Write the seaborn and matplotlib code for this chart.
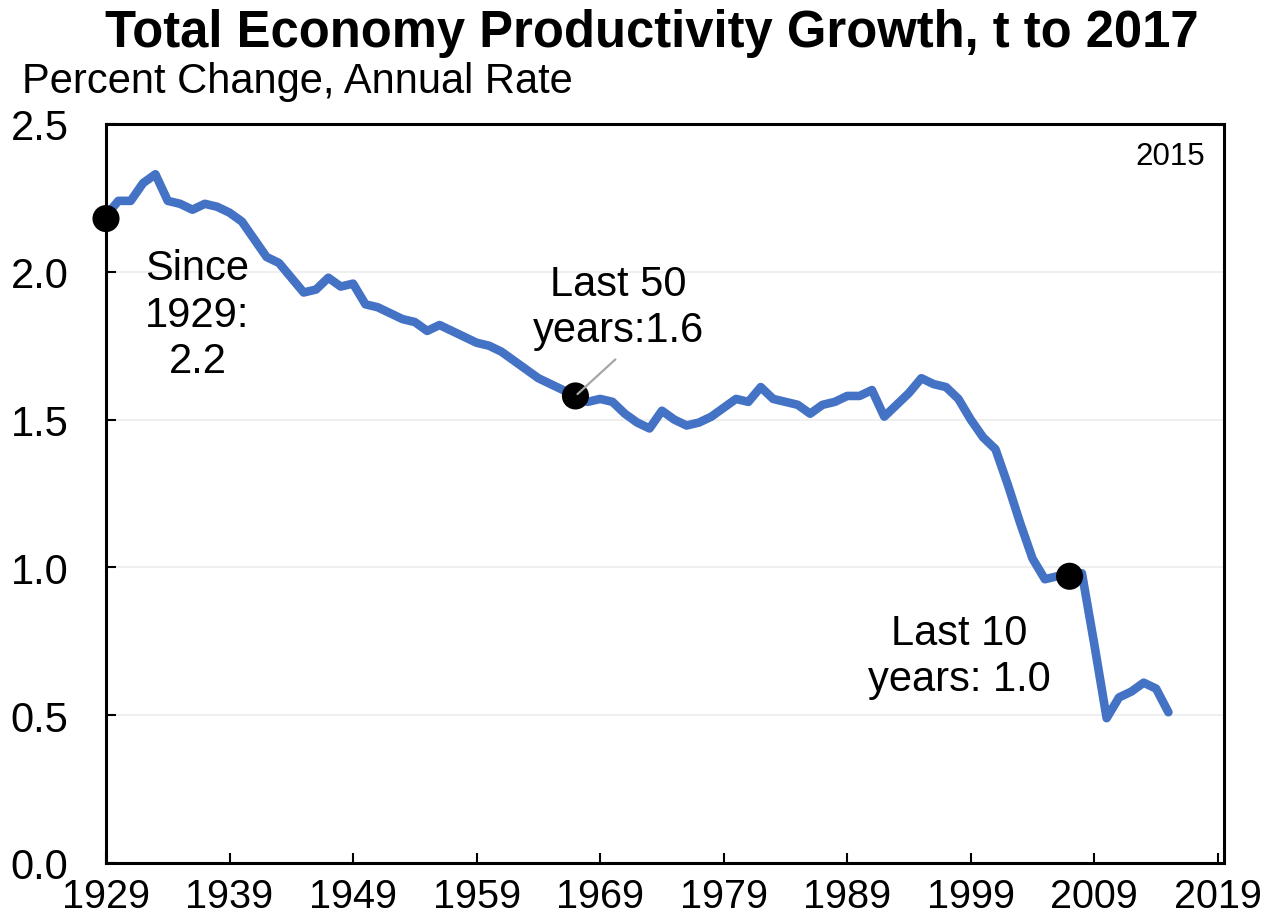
import matplotlib
matplotlib.use("Agg")
import matplotlib.pyplot as plt
import matplotlib.ticker as mticker
import seaborn as sns
import pandas as pd

# --- Data ---
years = list(range(1929, 2016))
growth = [
    2.19, 2.24, 2.24, 2.30, 2.33, 2.24, 2.23, 2.21, 2.23, 2.22,  # 1929-1938
    2.20, 2.17, 2.11, 2.05, 2.03, 1.98, 1.93, 1.94, 1.98, 1.95,  # 1939-1948
    1.96, 1.89, 1.88, 1.86, 1.84, 1.83, 1.80, 1.82, 1.80, 1.78,  # 1949-1958
    1.76, 1.75, 1.73, 1.70, 1.67, 1.64, 1.62, 1.60, 1.58, 1.56,  # 1959-1968
    1.57, 1.56, 1.52, 1.49, 1.47, 1.53, 1.50, 1.48, 1.49, 1.51,  # 1969-1978
    1.54, 1.57, 1.56, 1.61, 1.57, 1.56, 1.55, 1.52, 1.55, 1.56,  # 1979-1988
    1.58, 1.58, 1.60, 1.51, 1.55, 1.59, 1.64, 1.62, 1.61, 1.57,  # 1989-1998
    1.50, 1.44, 1.40, 1.28, 1.15, 1.03, 0.96, 0.97, 0.97, 0.98,  # 1999-2008
    0.74, 0.49, 0.56, 0.58, 0.61, 0.59, 0.51,                    # 2009-2015
]
highlight_years = [1929, 1967, 2007]
highlight_vals = [2.18, 1.58, 0.97]
labels = ["Since\n1929:\n2.2", "Last 50\nyears:1.6", "Last 10\nyears: 1.0"]
x_ticks = list(range(1929, 2020, 10))
y_ticks = [0.0, 0.5, 1.0, 1.5, 2.0, 2.5]

df = pd.DataFrame({"year": years, "growth": growth})
dots = pd.DataFrame({"year": highlight_years, "growth": highlight_vals})

# --- Style ---
sns.set_theme(style="white")
plt.rcParams["font.family"] = ["Liberation Sans", "DejaVu Sans"]
plt.rcParams["text.color"] = "black"
plt.rcParams["axes.labelcolor"] = "black"

fig = plt.figure(figsize=(12.66, 9.2), dpi=100)
ax = fig.add_axes([106 / 1266, 1 - 864 / 920, (1224 - 106) / 1266, (864 - 125) / 920])

sns.lineplot(data=df, x="year", y="growth", ax=ax, color="#4472C4", linewidth=6.2, zorder=3)
sns.scatterplot(data=dots, x="year", y="growth", ax=ax, color="black", s=380,
                edgecolor="none", zorder=4, clip_on=False)

# leader line for the 50-year point
ax.annotate("", xy=(highlight_years[1], highlight_vals[1]), xytext=(1970.4, 1.71),
            arrowprops=dict(arrowstyle="-", color="#a6a6a6", lw=1.6), zorder=5)

# --- Annotations ---
ax.text(1936.4, 1.855, labels[0], ha="center", va="center", fontsize=30, color="black")
ax.text(1970.5, 1.88, labels[1], ha="center", va="center", fontsize=30, color="black")
ax.text(1998.1, 0.70, labels[2], ha="center", va="center", fontsize=30, color="black")
ax.text(0.983, 0.957, "2015", transform=ax.transAxes, ha="right", va="center",
        fontsize=22.5, color="black")

# --- Axes ---
ax.set_xlim(1929, 2019.5)
ax.set_ylim(0, 2.5)
ax.set_xticks(x_ticks)
ax.set_yticks(y_ticks)
ax.yaxis.set_major_formatter(mticker.FormatStrFormatter("%.1f"))
ax.set_xlabel("")
ax.set_ylabel("")
ax.tick_params(axis="both", direction="in", length=7, width=1.5, colors="black",
               bottom=True, left=True)
ax.tick_params(axis="y", pad=27, labelsize=30)
ax.tick_params(axis="x", pad=10, labelsize=28.5)
ax.yaxis.grid(True, color="#ececec", linewidth=1.2)
ax.xaxis.grid(False)
for side in ["left", "right", "top", "bottom"]:
    ax.spines[side].set_visible(True)
    ax.spines[side].set_color("black")
    ax.spines[side].set_linewidth(2.2)

# --- Titles ---
fig.text(652 / 1266, 1 - 47 / 920, "Total Economy Productivity Growth, t to 2017",
         ha="center", va="baseline", fontsize=36.5, fontweight="bold", color="black")
fig.text(22 / 1266, 1 - 93 / 920, "Percent Change, Annual Rate",
         ha="left", va="baseline", fontsize=30, color="black")

fig.savefig("out.png", dpi=100)
